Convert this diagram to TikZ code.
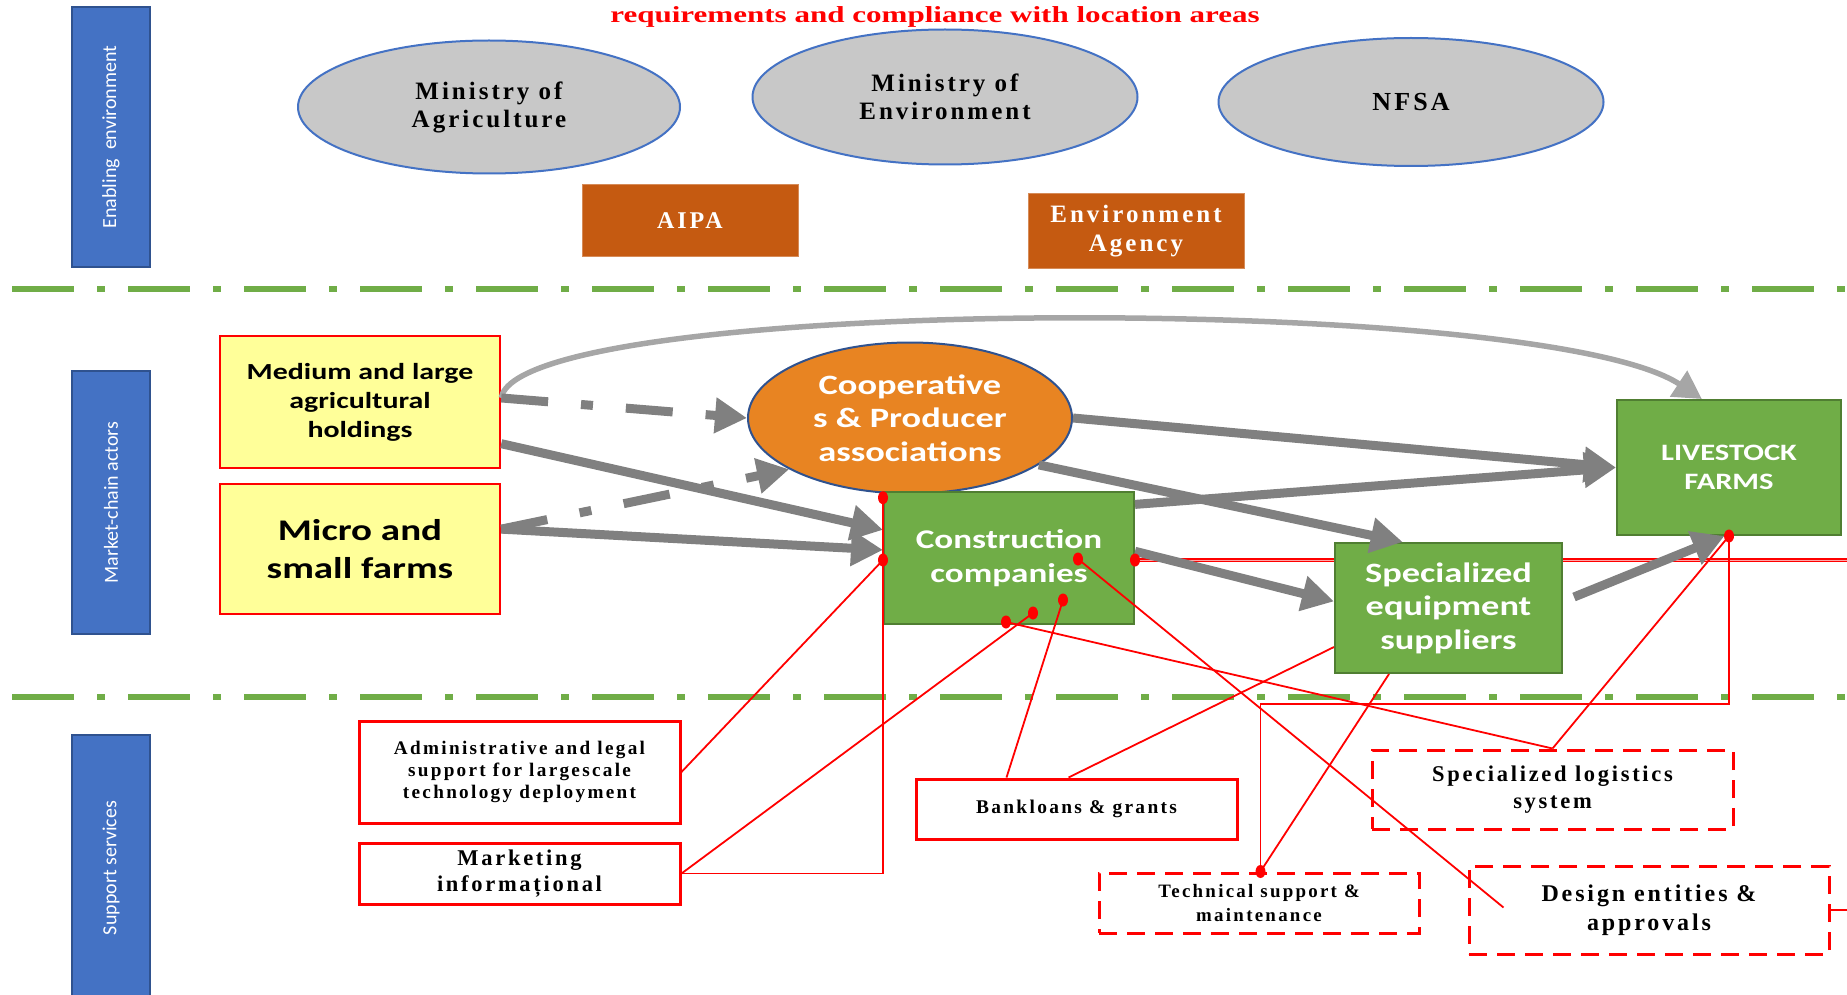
\documentclass[tikz,border=0pt]{standalone}
\usepackage{fontspec}
\setmainfont{Liberation Serif}
\newfontfamily\serifsp[LetterSpace=12]{Liberation Serif}
\newfontfamily\serifwide[FakeStretch=1.35]{Liberation Serif}
\newfontfamily\sanswide[FakeStretch=1.3]{Carlito}
\newfontfamily\sansplain{Carlito}
\usetikzlibrary{arrows.meta,shapes.geometric,calc}
\newcommand\fsz[2]{\fontsize{#1pt}{#2pt}\selectfont}

\definecolor{barblue}{HTML}{4472C4}
\definecolor{barborder}{HTML}{2F528F}
\definecolor{ellgray}{HTML}{C8C8C8}
\definecolor{ellblue}{HTML}{4472C4}
\definecolor{rust}{HTML}{C55A11}
\definecolor{lgreen}{HTML}{70AD47}
\definecolor{dgreen}{HTML}{507E32}
\definecolor{paleyellow}{HTML}{FFFF99}
\definecolor{coopor}{HTML}{E88422}
\definecolor{arrowgray}{HTML}{808080}
\definecolor{curvegray}{HTML}{A6A6A6}
\definecolor{pure red}{HTML}{FF0000}

\begin{document}
\begin{tikzpicture}[x=1pt,y=-1pt,
  bar/.style={draw=barborder, fill=barblue, line width=1.5pt, rotate=90,
    minimum height=78pt, inner sep=0pt, text=white, font=\sansplain\fsz{20}{24}},
  sepline/.style={draw=lgreen, line width=6pt, dash pattern=on 62pt off 23pt on 8pt off 23pt},
  agency/.style={ellipse, draw=ellblue, fill=ellgray, line width=2pt, align=center,
    inner sep=0pt, font=\serifsp\bfseries\fsz{25}{28}},
  office/.style={draw=rust!70!white, fill=rust, line width=1pt, align=center, inner sep=0pt,
    text=white},
  farm/.style={draw=pure red, fill=paleyellow, line width=2.5pt, align=center, inner sep=0pt,
    minimum width=280pt},
  actor/.style={draw=dgreen, fill=lgreen, line width=2pt, align=center, inner sep=0pt,
    text=white},
  service/.style={draw=pure red, fill=white, line width=3pt, align=center, inner sep=0pt},
  optservice/.style={service, dash pattern=on 18pt off 10pt},
  flow/.style={draw=arrowgray, line width=9pt, -{Triangle[length=32pt,width=34pt]}},
  flowdash/.style={flow, dash pattern=on 47pt off 33pt on 12pt off 33pt},
  bigcurve/.style={draw=curvegray, line width=5.5pt, -{Triangle[length=28pt,width=30pt]}},
  wire/.style={draw=pure red, line width=1.8pt},
  joint/.style={fill=pure red}
]
\useasboundingbox (0,0) rectangle (1847,995);

% layer separators
\draw[sepline] (12,289) -- (1847,289);
\draw[sepline] (12,697) -- (1847,697);

% layer bars
\node[bar, minimum width=260pt] (barenv) at (111,137) {Enabling\ \ environment};
\node[bar, minimum width=263pt] (barmkt) at (111,502.5) {Market-chain actors};
\node[bar, minimum width=266pt] (barsup) at (111,868) {Support services};

% title
\node[anchor=base, text=pure red, font=\serifwide\bfseries\fsz{23}{26}] (title) at (935,22.5)
  {requirements and compliance with location areas};

% enabling environment
\node[agency, minimum width=382pt, minimum height=133pt] (moa) at (489,107) {Ministry of\\Agriculture};
\node[agency, minimum width=385pt, minimum height=135pt] (moe) at (945,97) {Ministry of\\Environment};
\node[agency, minimum width=385pt, minimum height=128pt, font=\serifsp\bfseries\fsz{26}{28}] (nfsa) at (1411,102) {NFSA};
\node[office, minimum width=216pt, minimum height=71pt, font=\serifsp\bfseries\fsz{24}{28}] (aipa) at (690,220.5) {AIPA};
\node[office, minimum width=216pt, minimum height=74pt, font=\serifsp\bfseries\fsz{25}{29.5}] (envag) at (1136,231) {Environment\\Agency};

% market-chain actors
\node[farm, minimum height=132pt, font=\sanswide\bfseries\fsz{23}{29}] (medium) at (360,402) {Medium and large\\agricultural\\holdings};
\node[farm, minimum height=130pt, font=\sanswide\bfseries\fsz{30}{38}] (micro) at (360,549) {Micro and\\small farms};
\node[ellipse, draw=barborder, fill=coopor, line width=2pt, align=center, inner sep=0pt, text=white,
  minimum width=324pt, minimum height=151pt, font=\sanswide\bfseries\fsz{28}{33.6}] (coop) at (910,418)
  {Cooperative\\s \& Producer\\associations};
\node[actor, minimum width=250pt, minimum height=132pt, font=\sanswide\bfseries\fsz{27}{34}] (cons) at (1009,558) {Construction\\companies};
\node[actor, minimum width=224pt, minimum height=135pt, font=\sanswide\bfseries\fsz{23.5}{29.5}] (live) at (1729,467.5) {LIVESTOCK\\FARMS};

% support services
\node[service, minimum width=321pt, minimum height=102pt, font=\serifsp\bfseries\fsz{19.2}{22.4}] (admin) at (519.5,772)
  {Administrative and legal\\support for largescale\\technology deployment};
\node[service, minimum width=321pt, minimum height=61pt, font=\serifsp\bfseries\fsz{22.5}{26}] (mkt) at (519.5,873.5)
  {Marketing\\informațional};
\node[service, minimum width=321pt, minimum height=60pt, font=\serifsp\bfseries\fsz{19.4}{22}] (bank) at (1076.5,809)
  {Bankloans \& grants};
\node[optservice, minimum width=361pt, minimum height=79pt, font=\serifsp\bfseries\fsz{22.5}{27}] (logi) at (1552.5,789.5)
  {Specialized logistics\\system};
\node[optservice, minimum width=320pt, minimum height=60pt, font=\serifsp\bfseries\fsz{18.9}{24.7}] (tech) at (1259,903)
  {Technical support \&\\maintenance};
\node[optservice, minimum width=360pt, minimum height=88pt, font=\serifsp\bfseries\fsz{24}{29.5}] (design) at (1649,910)
  {Design entities \&\\approvals};

% attachment points
\coordinate (rightedge) at (1847,0);
\coordinate (rail) at (0,704);
\coordinate (d1) at ($(cons.north west)!0.05!(cons.south west)$);
\coordinate (d2) at ($(cons.north west)!0.515!(cons.south west)$);
\coordinate (d3) at ($(cons.north west)+(195,68)$);
\coordinate (d4) at ($(cons.north east)!0.515!(cons.south east)$);
\coordinate (d5) at ($(cons.north west)+(180,109)$);
\coordinate (d6) at ($(cons.north west)+(150,122)$);
\coordinate (d7) at ($(cons.north west)+(123,131)$);
\coordinate (d8) at ($(live.south west)!0.5!(live.south east)$);

% link running behind the equipment suppliers
\draw[wire, double=red!35!white, double distance=0.8pt, line width=1.2pt] (d4) -- (d4 -| rightedge);

\node[actor, minimum width=227pt, minimum height=130pt, font=\sanswide\bfseries\fsz{28}{33.6}] (spec) at (1448.5,608)
  {Specialized\\equipment\\suppliers};
\coordinate (d9) at ($(tech.north west)+(163,0)$);

% product flows
\draw[bigcurve] ($(medium.north east)!0.47!(medium.south east)$) .. controls (518,295) and (1540,292) .. ($(live.north west)!0.38!(live.north east)$);
\draw[flowdash] ($(medium.north east)!0.47!(medium.south east)$) -- (coop.west);
\draw[flowdash] ($(micro.north east)!0.35!(micro.south east)$) -- (coop.203);
\draw[flow] ($(medium.north east)!0.81!(medium.south east)$) -- ($(cons.north west)!0.29!(cons.south west)$);
\draw[flow] ($(micro.north east)!0.35!(micro.south east)$) -- ($(cons.north west)!0.44!(cons.south west)$);
\draw[flow] (coop.east) -- (live.west);
\draw[flow] (coop.-20) -- ($(spec.north west)!0.3!(spec.north east)$);
\draw[flow] ($(cons.north east)!0.1!(cons.south east)$) -- (live.west);
\draw[flow] ($(cons.north east)!0.45!(cons.south east)$) -- ($(spec.north west)!0.45!(spec.south west)$);
\draw[flow] ($(spec.east)+(11,-11)$) -- ($(live.south west)!0.48!(live.south east)$);

% support links
\draw[wire] (d1) |- (mkt.east);
\draw[wire] (d2) -- (admin.east);
\draw[wire] (d6) -- (mkt.east);
\draw[wire] (d5) -- ($(bank.north west)+(92,0)$);
\draw[wire] (d7) -- (logi.north);
\draw[wire] (d3) -- ($(design.north west)+(36,43)$);
\draw[wire] ($(bank.north west)+(154,0)$) -- ($(spec.north west)+(0,105)$);
\draw[wire] ($(spec.south west)+(55,0)$) -- (d9);
\draw[wire] (d9) -- (d9 |- rail) -- (d8 |- rail) -- (d8);
\draw[wire] (logi.north) -- (d8);
\draw[wire] (design.east) -- (design.east -| rightedge);

% joints
\foreach \p in {d1,d2,d3,d4,d5,d6,d7,d8,d9}
  \fill[joint] (\p) ellipse [x radius=5pt, y radius=6.5pt];
\end{tikzpicture}
\end{document}
